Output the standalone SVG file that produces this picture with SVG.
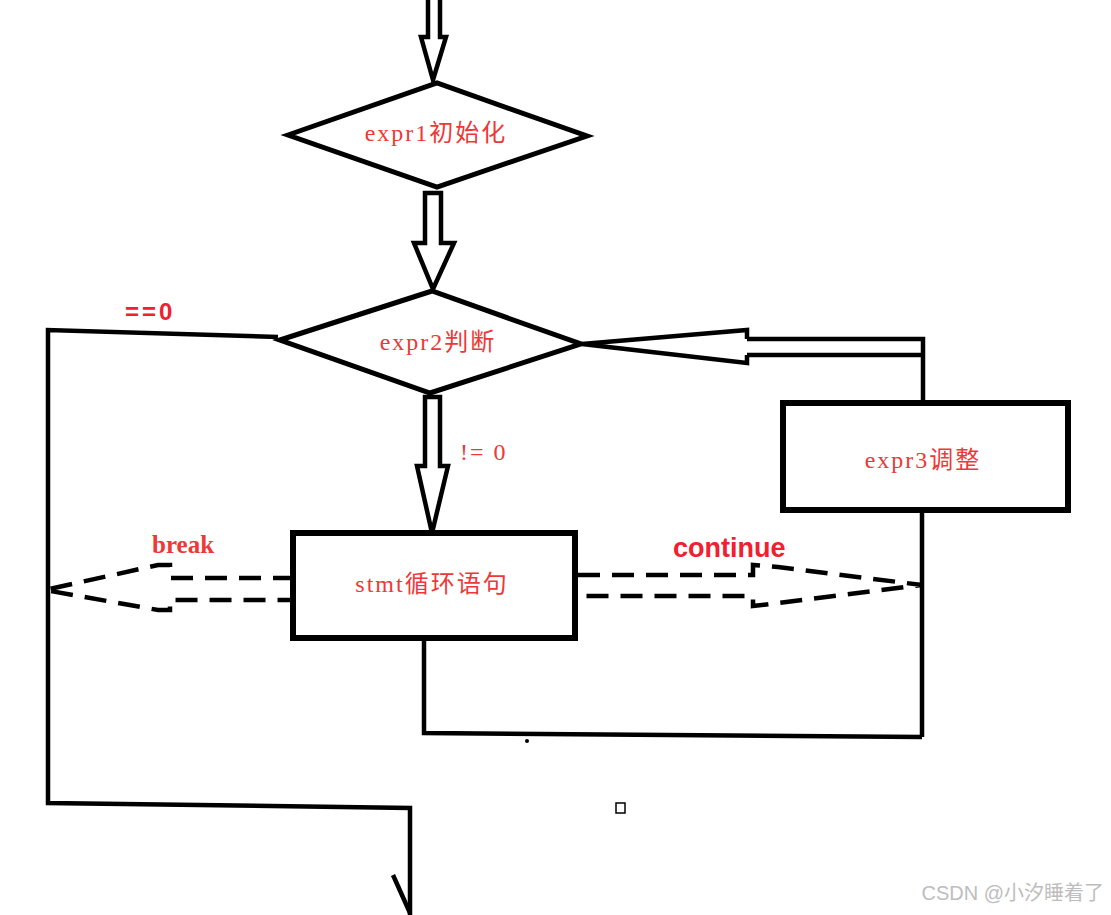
<svg xmlns="http://www.w3.org/2000/svg" width="1111" height="915" viewBox="0 0 1111 915">
<style>
.ln{fill:none;stroke:#000;stroke-width:4.5;stroke-linejoin:miter}
.shape{fill:#fff;stroke:#000;stroke-width:5}
.box{fill:#fff;stroke:#000;stroke-width:6}
.hollow{fill:#fff;stroke:#000;stroke-width:4.5;stroke-linejoin:miter}
.dash{fill:none;stroke:#000;stroke-width:4.5;stroke-dasharray:22 12}
.lbl{font-family:"Liberation Serif","Noto Sans CJK SC",serif;font-size:24px;fill:#ee3838;letter-spacing:2px}
.bold{font-family:"Liberation Sans","Noto Sans CJK SC",sans-serif;font-weight:bold;fill:#f0202e}
.wm{font-family:"Liberation Sans","Noto Sans CJK SC",sans-serif;font-size:20px;fill:#bdbdbd}
</style>
<rect width="1111" height="915" fill="#fff"/>
<g id="connectors">
  <polygon class="hollow" points="428,-5 428,37 421,37 433,80 446,37 440,37 440,-5"/>
  <polygon class="hollow" points="425,193 441,193 441,243 454,243 433,289 414,243 425,243"/>
  <polygon class="hollow" points="425,397 440,397 440,466 448,466 432,533 417,466 425,466"/>
  <polyline class="ln" points="278,337 48,330 48,803 410,808 410,915"/>
  <line class="ln" x1="393" y1="875" x2="410" y2="913"/>
  <polyline class="ln" points="747,339 923,339 923,403"/>
  <line class="ln" x1="747" y1="355" x2="923" y2="355"/>
  <polyline class="ln" points="747,339 747,330 582,344 747,363 747,355"/>
  <line class="ln" x1="922" y1="510" x2="922" y2="737"/>
  <polyline class="ln" points="424,638 424,733 922,737"/>
  <polyline class="dash" points="295,578 170,578 170,565 158,565 45,590 158,610 170,610 170,600 295,600"/>
  <polyline class="dash" points="578,575 753,575 753,565 778,567 922,585 778,603 753,606 753,596 578,596"/>
  <circle cx="527" cy="741" r="2" fill="#000"/>
  <rect x="616" y="803" width="9" height="10" fill="none" stroke="#000" stroke-width="1.5"/>
  <text class="bold" x="125" y="320" font-size="24" letter-spacing="3">==0</text>
  <text class="lbl" x="460" y="460" letter-spacing="0">!= 0</text>
  <text x="152" y="553" font-family="Liberation Serif,serif" font-weight="bold" font-size="25" fill="#ee3838">break</text>
  <text class="bold" x="673" y="557" font-size="27">continue</text>
</g>
<g id="init">
  <polygon class="shape" points="288,135 437,83 587,136 437,187"/>
  <text class="lbl" x="436" y="141" text-anchor="middle">expr1初始化</text>
</g>
<g id="cond">
  <polygon class="shape" points="280,340 432,291 581,344 430,393"/>
  <text class="lbl" x="438" y="350" text-anchor="middle">expr2判断</text>
</g>
<g id="adjust">
  <rect class="box" x="783" y="403" width="285" height="107"/>
  <text class="lbl" x="923" y="468" text-anchor="middle">expr3调整</text>
</g>
<g id="stmt">
  <rect class="box" x="293" y="533" width="282" height="105"/>
  <text class="lbl" x="432" y="592" text-anchor="middle" letter-spacing="2.5">stmt循环语句</text>
</g>
<text class="wm" x="1104" y="900" text-anchor="end">CSDN @小汐睡着了</text>
</svg>
